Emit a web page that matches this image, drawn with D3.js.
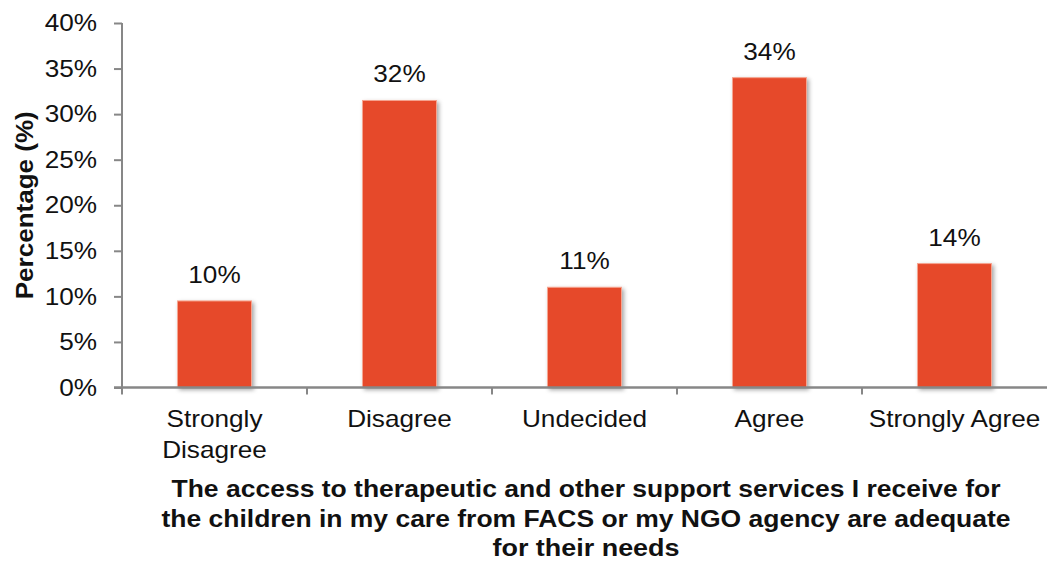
<!DOCTYPE html>
<html>
<head>
<meta charset="utf-8">
<script src="https://cdn.jsdelivr.net/npm/d3@7"></script>
<style>
  html, body { margin: 0; padding: 0; background: #fff; }
  svg { display: block; font-family: "Liberation Sans", Arial, sans-serif; }
</style>
</head>
<body>
<svg id="chart" width="1051" height="563"></svg>
<script>
// Response categories and share of respondents (%)
const categories = ["Strongly Disagree", "Disagree", "Undecided", "Agree", "Strongly Agree"];
const categoryLines = [["Strongly", "Disagree"], ["Disagree"], ["Undecided"], ["Agree"], ["Strongly Agree"]];
const percentages = [9.5, 31.5, 11, 34, 13.6];
const yTicks = [0, 5, 10, 15, 20, 25, 30, 35, 40];
const titleLines = [
  "The access to therapeutic and other support services I receive for",
  "the children in my care from FACS or my NGO agency are adequate",
  "for their needs"
];
const titleWidths = [829, 849, 187];

const svg = d3.select("#chart");
const margin = { left: 122, right: 4, top: 23, bottom: 176 };
const W = 1051, H = 563;
const axisColor = "#878787";
const barColor = "#E64A29";
const labelSize = 24;
const stretch = 1.09;

// widen regular labels slightly so they match the wide sans face
function widen(sel) {
  sel.each(function () {
    const w = this.getComputedTextLength();
    d3.select(this).attr("textLength", w * stretch).attr("lengthAdjust", "spacingAndGlyphs");
  });
}

const x = d3.scaleBand()
  .domain(categories)
  .range([margin.left, W - margin.right])
  .paddingInner(0.6)
  .paddingOuter(0.3);

const y = d3.scaleLinear()
  .domain([0, 40])
  .range([H - margin.bottom + 0.5, margin.top]);

// soft drop shadow under each bar
const defs = svg.append("defs");
const f = defs.append("filter").attr("id", "shadow")
  .attr("x", "-20%").attr("y", "-20%").attr("width", "140%").attr("height", "140%");
f.append("feDropShadow").attr("dx", 2).attr("dy", 2).attr("stdDeviation", 2)
  .attr("flood-color", "#000").attr("flood-opacity", 0.35);

// bars
svg.append("g").selectAll("rect")
  .data(percentages)
  .join("rect")
  .attr("x", (d, i) => x(categories[i]))
  .attr("y", d => y(d))
  .attr("width", x.bandwidth())
  .attr("height", d => y(0) - y(d))
  .attr("fill", barColor)
  .attr("stroke", "#f6a48f")
  .attr("stroke-width", 1)
  .attr("filter", "url(#shadow)");

// value labels
const fmt = d3.format(".0f");
svg.append("g").selectAll("text")
  .data(percentages)
  .join("text")
  .attr("x", (d, i) => x(categories[i]) + x.bandwidth() / 2)
  .attr("y", d => y(d) - 18)
  .attr("text-anchor", "middle")
  .attr("font-size", labelSize)
  .attr("fill", "#111")
  .text(d => fmt(d) + "%")
  .call(widen);

// y axis
const yAxis = d3.axisLeft(y)
  .tickValues(yTicks)
  .tickSize(8)
  .tickPadding(17)
  .tickFormat(d => d + "%");
const gy = svg.append("g")
  .attr("transform", `translate(${margin.left},0)`)
  .call(yAxis);
gy.select(".domain").attr("stroke", axisColor).attr("stroke-width", 2)
  .attr("d", `M0,${y(40)}V${y(0)}`);
gy.selectAll(".tick line").attr("stroke", axisColor).attr("stroke-width", 2);
gy.selectAll(".tick text").attr("font-size", labelSize).attr("fill", "#111")
  .attr("font-family", "Liberation Sans, Arial, sans-serif")
  .call(widen);

// x axis: line with ticks at category boundaries
const gx = svg.append("g");
const x0 = margin.left, x1 = W - margin.right;
gx.append("line")
  .attr("x1", x0 - 8).attr("x2", x1)
  .attr("y1", y(0)).attr("y2", y(0))
  .attr("stroke", axisColor).attr("stroke-width", 2.5);
const boundaries = categories.map(c => x(c) - (x.step() - x.bandwidth()) / 2);
gx.selectAll("line.bt")
  .data(boundaries)
  .join("line")
  .attr("class", "bt")
  .attr("x1", d => d).attr("x2", d => d)
  .attr("y1", y(0)).attr("y2", y(0) + 7)
  .attr("stroke", axisColor).attr("stroke-width", 2);

// category labels
categoryLines.forEach((lines, i) => {
  const cx = x(categories[i]) + x.bandwidth() / 2;
  gx.selectAll(null)
    .data(lines)
    .join("text")
    .attr("x", cx)
    .attr("y", (d, j) => 427 + j * 31)
    .attr("text-anchor", "middle")
    .attr("font-size", labelSize)
    .attr("fill", "#111")
    .text(d => d)
    .call(widen);
});

// y axis title
svg.append("text")
  .attr("transform", `translate(33,${(y(0) + y(40)) / 2}) rotate(-90)`)
  .attr("text-anchor", "middle")
  .attr("font-size", 24)
  .attr("font-weight", "bold")
  .attr("fill", "#111")
  .attr("textLength", 188)
  .attr("lengthAdjust", "spacingAndGlyphs")
  .text("Percentage (%)");

// x axis title
svg.append("g").selectAll("text")
  .data(titleLines)
  .join("text")
  .attr("x", 586)
  .attr("y", (d, i) => 497 + i * 29.5)
  .attr("text-anchor", "middle")
  .attr("font-size", 23.5)
  .attr("font-weight", "bold")
  .attr("fill", "#111")
  .attr("textLength", (d, i) => titleWidths[i])
  .attr("lengthAdjust", "spacingAndGlyphs")
  .text(d => d);
</script>
</body>
</html>
